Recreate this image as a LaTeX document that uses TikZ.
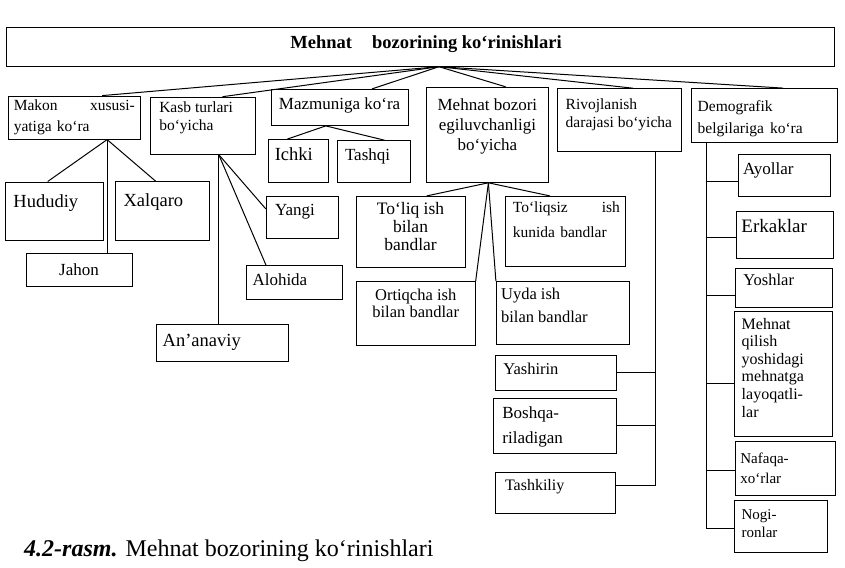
\documentclass[tikz,border=0pt]{standalone}
\usepackage{fontspec}
\setmainfont{Liberation Serif}
\tikzset{
  box/.style={draw, line width=1pt, inner sep=0pt},
  conn/.style={line width=1pt},
  lbl/.style={inner sep=0pt, align=left, anchor=north west},
  clbl/.style={inner sep=0pt, align=center, anchor=north},
}
\newcommand\mybox[5]{\node[box, minimum width=#4pt, minimum height=#5pt] (#1) at (#2,#3) {};}
\newcommand\mytext[5]{\node[lbl, font=#4] (#1t) at ([shift={(#2pt,-#3pt)}]#1.north west) {#5};}
\begin{document}
\begin{tikzpicture}[x=1pt,y=-1pt]
\useasboundingbox (0,0) rectangle (845,567);
% title box
\node[box, minimum width=828pt, minimum height=39pt] (top) at (420,46.7) {};
\node[inner sep=0pt, font=\fontsize{18.5}{20}\selectfont\bfseries] (title) at (426,44) {Mehnat\hspace{20pt}bozorining ko‘rinishlari};
% first level
\mybox{makon}{74.1}{117.6}{132}{43}
\mybox{kasb}{203.1}{125.7}{105}{57}
\mybox{mazm}{339.6}{107.4}{137}{36}
\mybox{mbz}{487.4}{134.8}{122}{95}
\mybox{rivoj}{619}{120.2}{124}{63}
\mybox{demo}{764}{115.6}{146}{54}
% second level
\mybox{hudud}{54.7}{211}{98}{58}
\mybox{xalq}{162.9}{211.4}{94}{59}
\mybox{jahon}{79}{269.7}{106}{33}
\mybox{yangi}{302.3}{217.5}{72}{42}
\mybox{alohida}{294.8}{282.9}{96}{34}
\mybox{ananaviy}{222}{343.3}{132}{37}
\mybox{ichki}{298.1}{161.1}{60}{43}
\mybox{tashqi}{373.8}{161.7}{73}{42}
\mybox{toliq}{410.5}{231.9}{109}{71}
\mybox{toliqsiz}{565.2}{231.4}{120}{70}
\mybox{ortiqcha}{415.7}{313.3}{119}{64}
\mybox{uyda}{562.9}{313.1}{133}{63}
\mybox{yashirin}{556.1}{372.5}{121}{35}
\mybox{boshqa}{555.2}{425.6}{123}{55}
\mybox{tashkiliy}{555.3}{492.7}{120}{41}
\mybox{ayollar}{784.4}{175.9}{92}{42}
\mybox{erkaklar}{785.2}{234.5}{97}{47}
\mybox{yoshlar}{784.2}{287.6}{97}{39}
\mybox{mqilish}{783}{373.8}{98}{125}
\mybox{nafaqa}{785.7}{468.3}{100}{54}
\mybox{nogiron}{781.4}{526.5}{93}{52}
% texts
\node[lbl, text width=121pt, font=\fontsize{15.5}{21}\selectfont] (makont) at ([shift={(6pt,-4pt)}]makon.north west) {Makon\hfill xususi-\\yatiga ko‘ra};
\mytext{kasb}{9}{5}{\fontsize{15.5}{18}\selectfont}{Kasb turlari\\bo‘yicha}
\node[inner sep=0pt, font=\fontsize{17}{19}\selectfont] (mazmt) at ([yshift=2pt]mazm.center) {Mazmuniga ko‘ra};
\node[clbl, font=\fontsize{17}{20}\selectfont] (mbzt) at ([yshift=-12pt]mbz.north) {Mehnat bozori\\egiluvchanligi\\bo‘yicha};
\mytext{rivoj}{9}{10}{\fontsize{15.5}{18}\selectfont}{Rivojlanish\\darajasi bo‘yicha}
\mytext{demo}{7}{12}{\fontsize{15.5}{22}\selectfont}{Demografik\\belgilariga\hspace{6pt}ko‘ra}
\mytext{hudud}{8}{13}{\fontsize{18.5}{20}\selectfont}{Hududiy}
\mytext{xalq}{8}{12}{\fontsize{18.5}{20}\selectfont}{Xalqaro}
\node[inner sep=0pt, font=\fontsize{17}{19}\selectfont] (jahont) at (jahon.center) {Jahon};
\mytext{yangi}{9}{8}{\fontsize{17}{19}\selectfont}{Yangi}
\mytext{alohida}{6}{8}{\fontsize{17}{19}\selectfont}{Alohida}
\mytext{ananaviy}{7}{10}{\fontsize{18.5}{20}\selectfont}{An’anaviy}
\mytext{ichki}{7}{8}{\fontsize{18.5}{20}\selectfont}{Ichki}
\mytext{tashqi}{8}{8}{\fontsize{17}{19}\selectfont}{Tashqi}
\node[clbl, font=\fontsize{17.5}{18}\selectfont] (toliqt) at ([yshift=-6pt]toliq.north) {To‘liq ish\\bilan\\bandlar};
\node[lbl, text width=107pt, font=\fontsize{15.5}{25}\selectfont] (toliqsizt) at ([shift={(8pt,-6pt)}]toliqsiz.north west) {To‘liqsiz\hfill ish\\kunida bandlar};
\node[clbl, font=\fontsize{16.5}{17.5}\selectfont] (ortiqchat) at ([yshift=-8pt]ortiqcha.north) {Ortiqcha ish\\bilan bandlar};
\mytext{uyda}{5}{7}{\fontsize{16.5}{23}\selectfont}{Uyda ish\\bilan bandlar}
\mytext{yashirin}{8}{8}{\fontsize{16.5}{19}\selectfont}{Yashirin}
\mytext{boshqa}{9}{9}{\fontsize{17}{25}\selectfont}{Boshqa-\\riladigan}
\mytext{tashkiliy}{10}{7}{\fontsize{16}{19}\selectfont}{Tashkiliy}
\mytext{ayollar}{5}{8}{\fontsize{17}{19}\selectfont}{Ayollar}
\mytext{erkaklar}{5}{9}{\fontsize{19}{21}\selectfont}{Erkaklar}
\mytext{yoshlar}{8}{6}{\fontsize{16.5}{19}\selectfont}{Yoshlar}
\mytext{mqilish}{8}{7}{\fontsize{16}{17.6}\selectfont}{Mehnat\\qilish\\yoshidagi\\mehnatga\\layoqatli-\\lar}
\mytext{nafaqa}{5}{12}{\fontsize{15}{20}\selectfont}{Nafaqa-\\xo‘rlar}
\mytext{nogiron}{7}{9}{\fontsize{15}{18}\selectfont}{Nogi-\\ronlar}
% connectors: top level
\coordinate (hub0) at ([xshift=19pt]top.south);
\draw[conn] (hub0) -- ([xshift=28pt]makon.north);
\draw[conn] (hub0) -- ([xshift=19.4pt]kasb.north);
\draw[conn] (hub0) -- ([xshift=32.4pt]mazm.north);
\draw[conn] (hub0) -- ([xshift=18.2pt]mbz.north);
\draw[conn] (hub0) -- ([xshift=14pt]rivoj.north);
\draw[conn] (hub0) -- ([xshift=19pt]demo.north);
% Makon
\coordinate (hub1) at ([xshift=33pt]makon.south);
\draw[conn] (hub1) -- ([xshift=-7pt]hudud.north);
\draw[conn] (hub1) -- ([xshift=-7pt]xalq.north);
\draw[conn] (hub1) -- (hub1 |- jahon.north);
% Kasb
\coordinate (hub2) at ([xshift=15.7pt]kasb.south);
\draw[conn] (hub2) -- ([yshift=8.6pt]yangi.west);
\draw[conn] (hub2) -- ([xshift=-28.7pt]alohida.north);
\draw[conn] (hub2) -- (hub2 |- ananaviy.north);
% Mazmuniga
\coordinate (hub3) at ([xshift=-13.8pt]mazm.south);
\draw[conn] (hub3) -- ([xshift=-10.8pt]ichki.north);
\draw[conn] (hub3) -- ([xshift=10.7pt]tashqi.north);
% Mehnat bozori egiluvchanligi
\coordinate (hub4) at ([xshift=1pt]mbz.south);
\draw[conn] (hub4) -- ([xshift=16.2pt]toliq.north);
\draw[conn] (hub4) -- ([xshift=-15.4pt]toliqsiz.north);
\draw[conn] (hub4) -- (ortiqcha.north east);
\draw[conn] (hub4) -- (uyda.north west);
% Rivojlanish
\coordinate (rv0) at ([xshift=36pt]rivoj.south);
\coordinate (tk) at ([yshift=7.7pt]tashkiliy.east);
\draw[conn] (rv0) -- (rv0 |- tk) -- (tk);
\draw[conn] (yashirin.east) -- (yashirin.east -| rv0);
\draw[conn] (boshqa.east) -- (boshqa.east -| rv0);
% Demografik
\coordinate (dm0) at ([xshift=-58pt]demo.south);
\coordinate (ng) at ([yshift=-1.8pt]nogiron.west);
\draw[conn] (dm0) -- (dm0 |- ng) -- (ng);
\draw[conn] ([yshift=-5.9pt]ayollar.west) -- ([yshift=-5.9pt]ayollar.west -| dm0);
\draw[conn] ([yshift=-3.3pt]erkaklar.west) -- ([yshift=-3.3pt]erkaklar.west -| dm0);
\draw[conn] ([yshift=-7.4pt]yoshlar.west) -- ([yshift=-7.4pt]yoshlar.west -| dm0);
\draw[conn] ([yshift=-9.3pt]mqilish.west) -- ([yshift=-9.3pt]mqilish.west -| dm0);
\draw[conn] ([yshift=-1.9pt]nafaqa.west) -- ([yshift=-1.9pt]nafaqa.west -| dm0);
% caption
\node[lbl, font=\fontsize{24}{26}\selectfont] (caption) at (24,540) {\textbf{\textit{4.2-rasm.}}\hspace{8pt}Mehnat bozorining ko‘rinishlari};
\end{tikzpicture}
\end{document}
